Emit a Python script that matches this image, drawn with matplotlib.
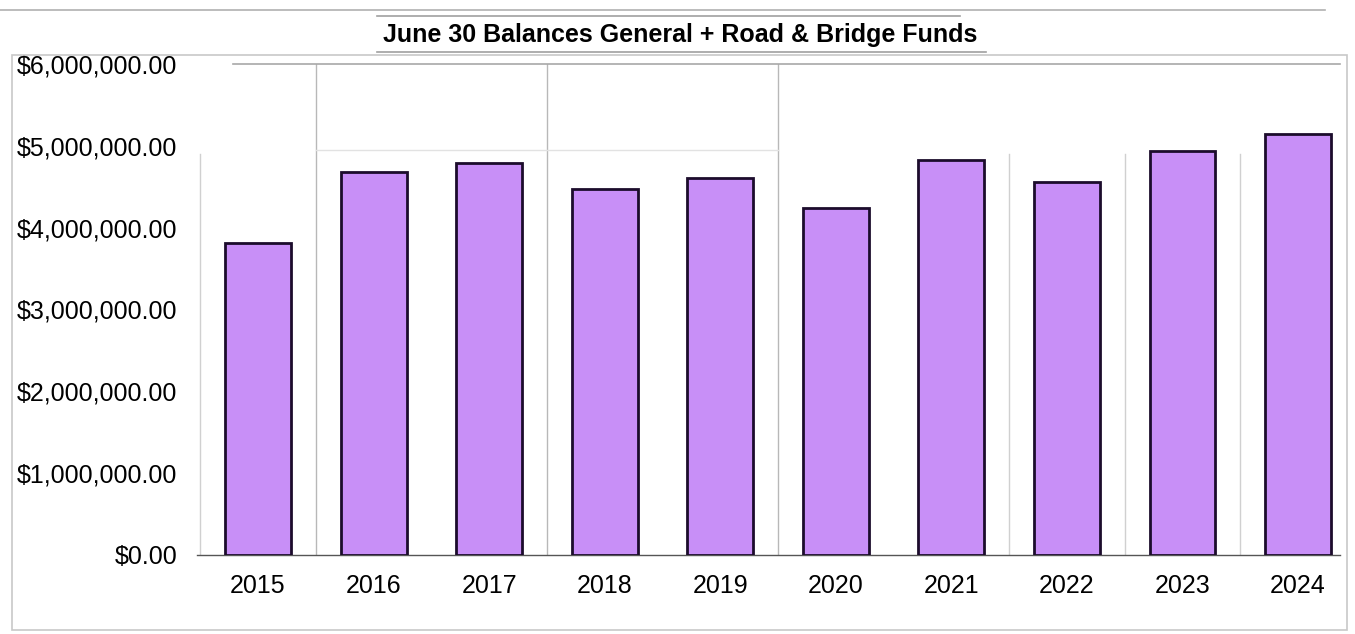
import matplotlib.pyplot as plt
from matplotlib.patches import Rectangle
from matplotlib.lines import Line2D
from matplotlib.ticker import FuncFormatter

plt.rcParams["font.family"] = ["Liberation Sans", "DejaVu Sans"]

# Data
years = ["2015", "2016", "2017", "2018", "2019", "2020", "2021", "2022", "2023", "2024"]
balances = [3810000, 4680000, 4790000, 4470000, 4610000, 4240000, 4830000, 4560000, 4940000, 5150000]
y_ticks = [0, 1000000, 2000000, 3000000, 4000000, 5000000, 6000000]
title = "June 30 Balances General + Road & Bridge Funds"

fig = plt.figure(figsize=(13.55, 6.34), dpi=100)
fig.patch.set_facecolor("white")
ax = fig.add_axes([197 / 1355, 1 - 555 / 634, (1340 - 197) / 1355, (555 - 64) / 634])

x = list(range(len(years)))

# faint separators between categories
for b in [0.5, 2.5, 4.5]:
    ax.axvline(b, ymin=0, ymax=1, color="#b8b8b8", lw=1, zorder=1)
for b in [-0.5, 6.5, 7.5, 8.5]:
    ax.plot([b, b], [0, 4.9e6], color="#d0d0d0", lw=1, zorder=1)
ax.plot([0.5, 4.5], [4.95e6, 4.95e6], color="#e2e2e2", lw=1, zorder=1)

ax.bar(x, balances, width=0.57, color="#c88ff7", edgecolor="#1c0c2c", linewidth=2, zorder=3)

ax.set_xlim(-0.528, 9.363)
ax.set_ylim(0, 6000000)
ax.set_yticks(y_ticks)
ax.yaxis.set_major_formatter(FuncFormatter(lambda v, p: "${:,.2f}".format(v)))
ax.set_xticks(x)
ax.set_xticklabels(years)
ax.tick_params(axis="both", length=0, labelsize=18, colors="black")
ax.tick_params(axis="y", pad=14)
ax.tick_params(axis="x", pad=14)

for s in ["left", "right", "top"]:
    ax.spines[s].set_visible(False)
ax.spines["bottom"].set_color("#555555")
ax.spines["bottom"].set_linewidth(1)
ax.plot([0.0 - 0.22, 9.363], [6000000, 6000000], color="#a8a8a8", lw=1.2, zorder=1, clip_on=False)

# outer frame and title box
fig.add_artist(Line2D([0, 1325 / 1355], [1 - 10 / 634, 1 - 10 / 634], color="#b0b0b0", lw=1.2))
fig.add_artist(Rectangle((12 / 1355, 4 / 634), (1347 - 12) / 1355, (575) / 634,
                         fill=False, edgecolor="#c8c8c8", lw=1.2))
fig.add_artist(Line2D([377 / 1355, 960 / 1355], [1 - 16 / 634, 1 - 16 / 634], color="#a0a0a0", lw=1.2))
fig.add_artist(Line2D([377 / 1355, 986 / 1355], [1 - 52 / 634, 1 - 52 / 634], color="#a0a0a0", lw=1.2))
fig.text(680 / 1355, 1 - 35 / 634, title, ha="center", va="center", fontsize=18, fontweight="bold")

fig.savefig("out.png", dpi=100, facecolor="white")
